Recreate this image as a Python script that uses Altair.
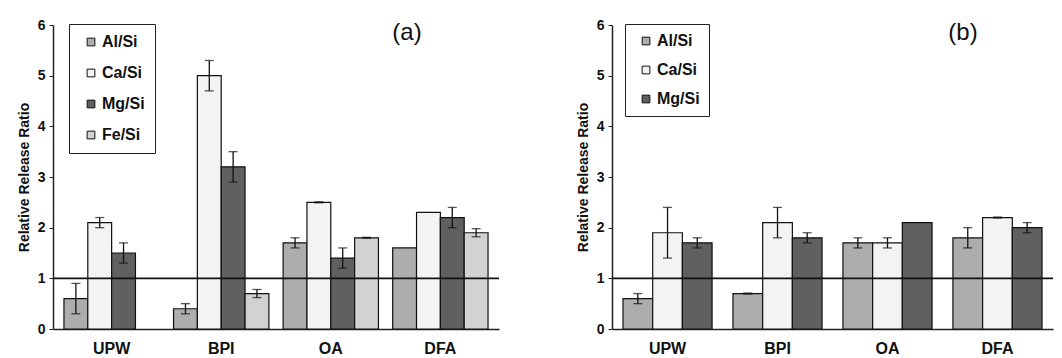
import altair as alt
import pandas as pd

groups = ["UPW", "BPI", "OA", "DFA"]

# Panel (a)
series_a = ["Al/Si", "Ca/Si", "Mg/Si", "Fe/Si"]
a_al = [0.6, 0.4, 1.7, 1.6]
a_al_err = [0.3, 0.1, 0.1, 0.0]
a_ca = [2.1, 5.0, 2.5, 2.3]
a_ca_err = [0.1, 0.3, 0.01, 0.0]
a_mg = [1.5, 3.2, 1.4, 2.2]
a_mg_err = [0.2, 0.3, 0.2, 0.2]
a_fe = [None, 0.7, 1.8, 1.9]
a_fe_err = [0.0, 0.08, 0.01, 0.08]

# Panel (b)
series_b = ["Al/Si", "Ca/Si", "Mg/Si"]
b_al = [0.6, 0.7, 1.7, 1.8]
b_al_err = [0.1, 0.01, 0.1, 0.2]
b_ca = [1.9, 2.1, 1.7, 2.2]
b_ca_err = [0.5, 0.3, 0.1, 0.01]
b_mg = [1.7, 1.8, 2.1, 2.0]
b_mg_err = [0.1, 0.1, 0.0, 0.1]

fill_a = ["#adadad", "#f3f3f3", "#606060", "#d2d2d2"]
fill_b = ["#adadad", "#f3f3f3", "#606060"]


def make_df(series, values, errs):
    rows = []
    for s, vals, es in zip(series, values, errs):
        for g, v, e in zip(groups, vals, es):
            if v is None:
                continue
            rows.append({"group": g, "series": s, "value": v, "err": e,
                         "lo": v - e, "hi": v + e})
    return pd.DataFrame(rows)


df_a = make_df(series_a, [a_al, a_ca, a_mg, a_fe], [a_al_err, a_ca_err, a_mg_err, a_fe_err])
df_b = make_df(series_b, [b_al, b_ca, b_mg], [b_al_err, b_ca_err, b_mg_err])

FONT = "Liberation Sans"


def panel(df, series, fills, label, width, pad_inner, legend_x, legend_pad, legend_row,
          title_x):
    x = alt.X("group:N", sort=groups, title=None,
              scale=alt.Scale(paddingInner=pad_inner, paddingOuter=0.1),
              axis=alt.Axis(labelAngle=0, ticks=False, labelPadding=11,
                            labelFontSize=16, labelFontWeight="bold",
                            labelColor="#111", domainColor="#222", domainWidth=1.5))
    xo = alt.XOffset("series:N", sort=series, scale=alt.Scale(domain=series))
    y = alt.Y("value:Q", title="Relative Release Ratio",
              scale=alt.Scale(domain=[0, 6], nice=False),
              axis=alt.Axis(values=[0, 1, 2, 3, 4, 5, 6], grid=False, format="d",
                            labelFontSize=14, labelFontWeight="bold", labelColor="#111",
                            tickColor="#222", tickSize=4, labelPadding=4,
                            domainColor="#222",
                            domainWidth=1.5, titleFontSize=14, titleFontWeight="bold",
                            titleColor="#111", titlePadding=6))
    base = alt.Chart(df)
    bars = base.mark_bar(stroke="#111", strokeWidth=1.2).encode(
        x=x, xOffset=xo, y=y,
        fill=alt.Fill("series:N", sort=series,
                      scale=alt.Scale(domain=series, range=fills),
                      legend=alt.Legend(title=None, orient="none", legendX=legend_x,
                                        legendY=-1, strokeColor="#222", fillColor="white",
                                        padding=legend_pad, symbolType="square",
                                        symbolSize=60, symbolOffset=4,
                                        symbolStrokeColor="#111", symbolStrokeWidth=1,
                                        labelFontSize=16, labelFontWeight="bold",
                                        labelColor="#111", rowPadding=legend_row,
                                        labelOffset=3)),
    )
    err = base.transform_filter("datum.err > 0")
    rules = err.mark_rule(color="#111", strokeWidth=1.3).encode(
        x=x, xOffset=xo, y="lo:Q", y2="hi:Q")
    cap_hi = err.mark_tick(color="#111", thickness=1.3, size=9).encode(
        x=x, xOffset=xo, y="hi:Q")
    cap_lo = err.mark_tick(color="#111", thickness=1.3, size=9).encode(
        x=x, xOffset=xo, y="lo:Q")
    one = alt.Chart(pd.DataFrame({"ref": [1]})).mark_rule(
        color="#111", strokeWidth=1.6).encode(y="ref:Q")
    title = alt.Chart(pd.DataFrame({"t": [label]})).mark_text(
        fontSize=24, font=FONT, color="#111", align="center", baseline="middle").encode(
        text="t:N", x=alt.value(title_x), y=alt.value(8))
    return alt.layer(bars, rules, cap_hi, cap_lo, one, title).properties(
        width=width, height=304)


left = panel(df_a, series_a, fill_a, "(a)", 446, 0.13, 16, 10, 15, 354)
right = panel(df_b, series_b, fill_b, "(b)", 441, 0.19, 13, 9, 13, 351)

chart = alt.hconcat(left, right, spacing=76).resolve_scale(
    fill="independent", xOffset="independent", x="independent", y="independent"
).resolve_legend(fill="independent").configure(
    font=FONT, padding={"top": 10, "left": 9, "right": 0, "bottom": 0}
).configure_view(stroke=None)

chart.save("out.html", embed_options={"renderer": "svg", "actions": False})
